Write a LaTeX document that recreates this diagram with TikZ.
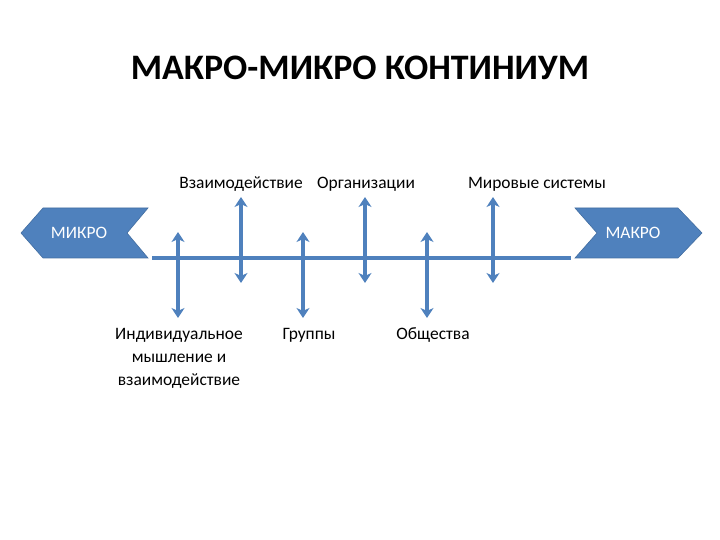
\documentclass[tikz,border=0pt]{standalone}
\usepackage{fontspec}
\setmainfont{Carlito}
\usetikzlibrary{arrows.meta}
\definecolor{axisblue}{RGB}{79,129,189}
\tikzset{
  chevron/.style={fill=axisblue, draw=axisblue!85!black, line width=0.6bp},
  label/.style={anchor=base, font=\fontsize{17.5}{23}\selectfont, align=center, inner sep=0pt},
  tick/.style={axisblue, line width=3.5bp, {Stealth[length=10bp,width=13bp,inset=3bp]}-{Stealth[length=10bp,width=13bp,inset=3bp]}}
}

\begin{document}
\begin{tikzpicture}[x=1bp,y=-1bp]
        \useasboundingbox (0,0) rectangle (720,540);
        % Title
        \node[anchor=base, inner sep=0pt] (title) at (360,80) {\fontsize{36}{40}\selectfont\bfseries МАКРО-МИКРО КОНТИНИУМ};
        % Chevrons at both ends of the axis
        \draw[chevron] (43,208) -- (148,208) -- (127,233) -- (148,258) -- (43,258) -- (21,233) -- cycle;
        \node[label, text=white] (micro) at (79,239) {МИКРО};
        \draw[chevron] (575,208) -- (678,208) -- (702,233) -- (678,258) -- (575,258) -- (597,233) -- cycle;
        \node[label, text=white] (macro) at (633,239) {МАКРО};
        % Axis line
        \coordinate (axL) at (152,258);
        \coordinate (axR) at (571,258);
        \draw[axisblue, line width=3.5bp] (axL) -- (axR);
        % Level arrows crossing the axis
        \foreach \n/\x/\t/\b in {1/178/232/318, 2/241/197/283, 3/303/232/318, 4/365/197/283, 5/427/232/318, 6/493/197/283} {
            \coordinate (up\n) at (\x,\t);
            \coordinate (dn\n) at (\x,\b);
            \draw[tick] (up\n) -- (dn\n);
        }
        % Labels above the axis
        \node[label] (inter) at (241,189) {Взаимодействие};
        \node[label] (org) at (366,189) {Организации};
        \node[label] (world) at (537,189) {Мировые системы};
        % Labels below the axis
        \node[label] (indiv) at (179,385) {Индивидуальное\\мышление и\\взаимодействие};
        \node[label] (groups) at (309,339) {Группы};
        \node[label] (society) at (433,339) {Общества};
\end{tikzpicture}
\end{document}
